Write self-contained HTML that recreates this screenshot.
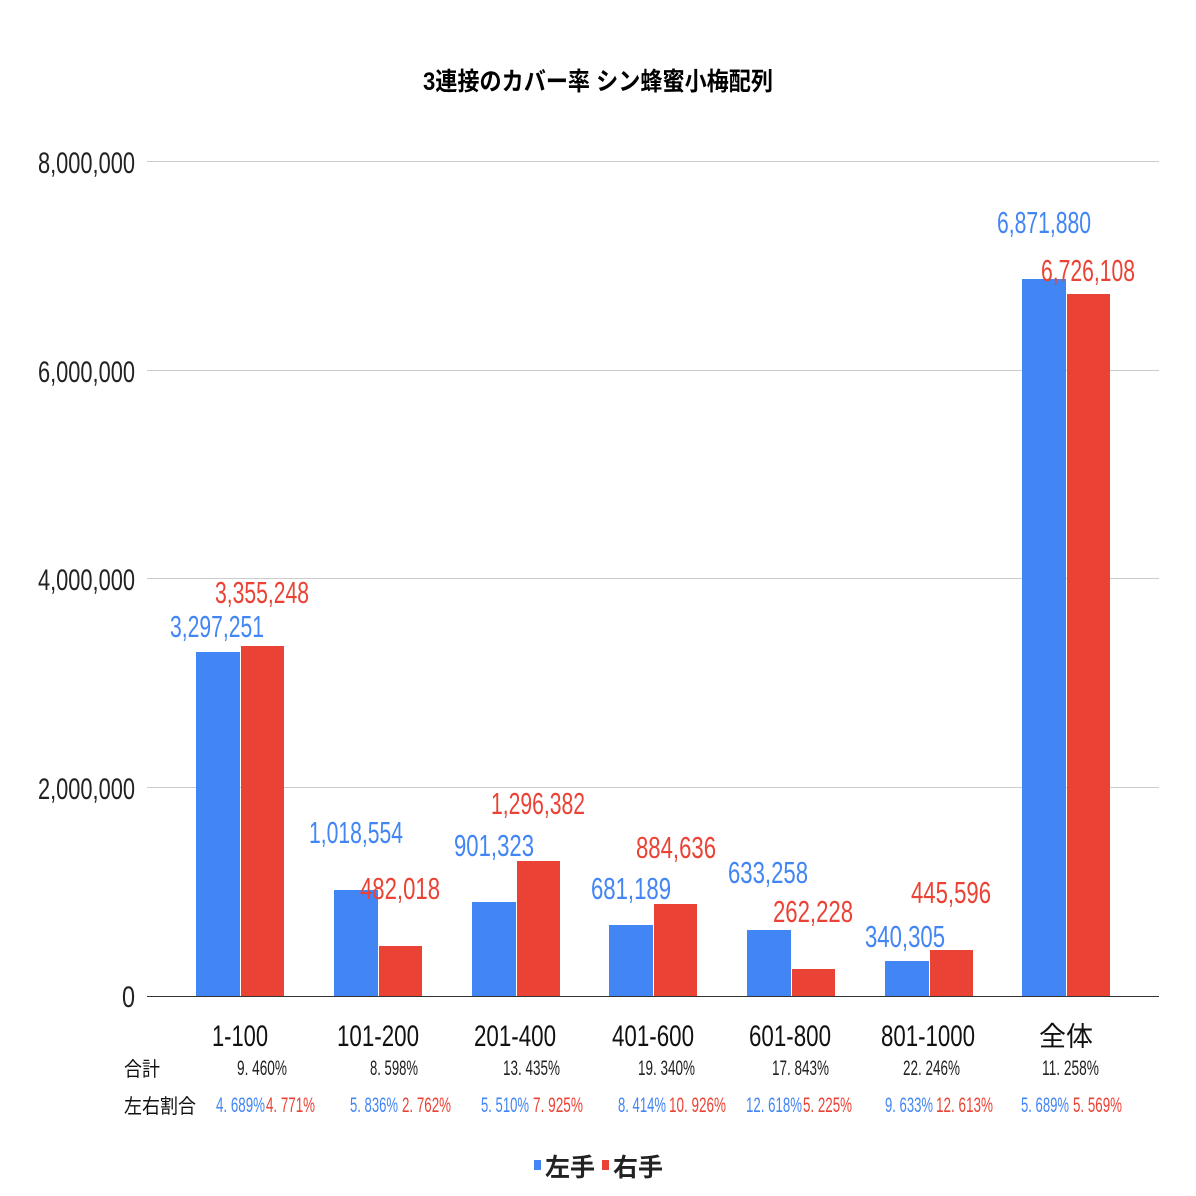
<!DOCTYPE html>
<html><head><meta charset="utf-8"><style>body{margin:0;background:#fff}svg{display:block}text{font-family:"Liberation Sans Narrow","Liberation Sans","Noto Sans CJK JP",sans-serif}</style></head><body>
<svg width="1196" height="1196" xmlns="http://www.w3.org/2000/svg">
<rect width="1196" height="1196" fill="#fff"/>
<text x="598" y="90" text-anchor="middle" font-size="25" font-weight="bold" fill="#000" font-family="Liberation Sans, Noto Sans CJK JP, sans-serif" textLength="350" lengthAdjust="spacingAndGlyphs">3連接のカバー率 シン蜂蜜小梅配列</text>
<g stroke="#ccc" stroke-width="1">
<line x1="147" y1="161.5" x2="1159" y2="161.5"/><line x1="147" y1="370.5" x2="1159" y2="370.5"/><line x1="147" y1="578.5" x2="1159" y2="578.5"/><line x1="147" y1="787.5" x2="1159" y2="787.5"/>
</g>
<g font-size="30" fill="#222" text-anchor="end">
<text x="135" y="173" textLength="97" lengthAdjust="spacingAndGlyphs">8,000,000</text>
<text x="135" y="382" textLength="97" lengthAdjust="spacingAndGlyphs">6,000,000</text>
<text x="135" y="590" textLength="97" lengthAdjust="spacingAndGlyphs">4,000,000</text>
<text x="135" y="799" textLength="97" lengthAdjust="spacingAndGlyphs">2,000,000</text>
<text x="135" y="1007" textLength="13" lengthAdjust="spacingAndGlyphs">0</text>
</g>
<g fill="#4285f4">
<rect x="196" y="652" width="44" height="344"/>
<rect x="334" y="890" width="44" height="106"/>
<rect x="472" y="902" width="44" height="94"/>
<rect x="609" y="925" width="44" height="71"/>
<rect x="747" y="930" width="44" height="66"/>
<rect x="885" y="961" width="44" height="35"/>
<rect x="1022" y="279" width="44" height="717"/>
</g>
<g fill="#ea4335">
<rect x="241" y="646" width="43" height="350"/>
<rect x="379" y="946" width="43" height="50"/>
<rect x="517" y="861" width="43" height="135"/>
<rect x="654" y="904" width="43" height="92"/>
<rect x="792" y="969" width="43" height="27"/>
<rect x="930" y="950" width="43" height="46"/>
<rect x="1067" y="294" width="43" height="702"/>
</g>
<line x1="147" y1="996.5" x2="1159" y2="996.5" stroke="#333" stroke-width="1"/>
<g font-size="31" text-anchor="middle" fill="#4285f4">
<text x="217" y="637" textLength="94" lengthAdjust="spacingAndGlyphs">3,297,251</text>
<text x="356" y="843" textLength="94" lengthAdjust="spacingAndGlyphs">1,018,554</text>
<text x="494" y="856" textLength="80" lengthAdjust="spacingAndGlyphs">901,323</text>
<text x="631" y="899" textLength="80" lengthAdjust="spacingAndGlyphs">681,189</text>
<text x="768" y="883" textLength="80" lengthAdjust="spacingAndGlyphs">633,258</text>
<text x="905" y="947" textLength="80" lengthAdjust="spacingAndGlyphs">340,305</text>
<text x="1044" y="233" textLength="94" lengthAdjust="spacingAndGlyphs">6,871,880</text>
</g>
<g font-size="31" text-anchor="middle" fill="#ea4335">
<text x="262" y="603" textLength="94" lengthAdjust="spacingAndGlyphs">3,355,248</text>
<text x="400" y="899" textLength="80" lengthAdjust="spacingAndGlyphs">482,018</text>
<text x="538" y="814" textLength="94" lengthAdjust="spacingAndGlyphs">1,296,382</text>
<text x="676" y="858" textLength="80" lengthAdjust="spacingAndGlyphs">884,636</text>
<text x="813" y="922" textLength="80" lengthAdjust="spacingAndGlyphs">262,228</text>
<text x="951" y="903" textLength="80" lengthAdjust="spacingAndGlyphs">445,596</text>
<text x="1088" y="281" textLength="94" lengthAdjust="spacingAndGlyphs">6,726,108</text>
</g>
<g font-size="30" text-anchor="middle" fill="#111">
<text x="240" y="1046" textLength="56" lengthAdjust="spacingAndGlyphs">1-100</text>
<text x="378" y="1046" textLength="82" lengthAdjust="spacingAndGlyphs">101-200</text>
<text x="515" y="1046" textLength="82" lengthAdjust="spacingAndGlyphs">201-400</text>
<text x="653" y="1046" textLength="82" lengthAdjust="spacingAndGlyphs">401-600</text>
<text x="790" y="1046" textLength="82" lengthAdjust="spacingAndGlyphs">601-800</text>
<text x="928" y="1046" textLength="94" lengthAdjust="spacingAndGlyphs">801-1000</text>
<text x="1066" y="1046" font-family="Noto Sans CJK JP, sans-serif" font-size="27">全体</text>
</g>
<g font-family="Noto Sans CJK JP, sans-serif" font-size="20" fill="#111">
<text x="124" y="1076" textLength="36" lengthAdjust="spacingAndGlyphs">合計</text>
<text x="124" y="1113" textLength="72" lengthAdjust="spacingAndGlyphs">左右割合</text>
</g>
<g font-size="21" fill="#222">
<text x="237" y="1075" textLength="50" lengthAdjust="spacingAndGlyphs">9. 460%</text>
<text x="370" y="1075" textLength="48" lengthAdjust="spacingAndGlyphs">8. 598%</text>
<text x="503" y="1075" textLength="57" lengthAdjust="spacingAndGlyphs">13. 435%</text>
<text x="638" y="1075" textLength="57" lengthAdjust="spacingAndGlyphs">19. 340%</text>
<text x="772" y="1075" textLength="57" lengthAdjust="spacingAndGlyphs">17. 843%</text>
<text x="903" y="1075" textLength="57" lengthAdjust="spacingAndGlyphs">22. 246%</text>
<text x="1042" y="1075" textLength="57" lengthAdjust="spacingAndGlyphs">11. 258%</text>
</g>
<g font-size="21">
<g fill="#4285f4">
<text x="216" y="1112" textLength="49" lengthAdjust="spacingAndGlyphs">4. 689%</text>
<text x="350" y="1112" textLength="48" lengthAdjust="spacingAndGlyphs">5. 836%</text>
<text x="481" y="1112" textLength="48" lengthAdjust="spacingAndGlyphs">5. 510%</text>
<text x="618" y="1112" textLength="48" lengthAdjust="spacingAndGlyphs">8. 414%</text>
<text x="746" y="1112" textLength="56" lengthAdjust="spacingAndGlyphs">12. 618%</text>
<text x="885" y="1112" textLength="48" lengthAdjust="spacingAndGlyphs">9. 633%</text>
<text x="1021" y="1112" textLength="48" lengthAdjust="spacingAndGlyphs">5. 689%</text>
</g>
<g fill="#ea4335">
<text x="266" y="1112" textLength="49" lengthAdjust="spacingAndGlyphs">4. 771%</text>
<text x="402" y="1112" textLength="49" lengthAdjust="spacingAndGlyphs">2. 762%</text>
<text x="533" y="1112" textLength="50" lengthAdjust="spacingAndGlyphs">7. 925%</text>
<text x="669" y="1112" textLength="57" lengthAdjust="spacingAndGlyphs">10. 926%</text>
<text x="803" y="1112" textLength="49" lengthAdjust="spacingAndGlyphs">5. 225%</text>
<text x="936" y="1112" textLength="57" lengthAdjust="spacingAndGlyphs">12. 613%</text>
<text x="1073" y="1112" textLength="49" lengthAdjust="spacingAndGlyphs">5. 569%</text>
</g>
</g>
<rect x="534" y="1160" width="7" height="10" fill="#4285f4"/>
<text x="545" y="1176" font-family="Noto Sans CJK JP, sans-serif" font-weight="bold" font-size="25" fill="#222">左手</text>
<rect x="602" y="1160" width="7" height="10" fill="#ea4335"/>
<text x="613" y="1176" font-family="Noto Sans CJK JP, sans-serif" font-weight="bold" font-size="25" fill="#222">右手</text>
</svg>
</body></html>
